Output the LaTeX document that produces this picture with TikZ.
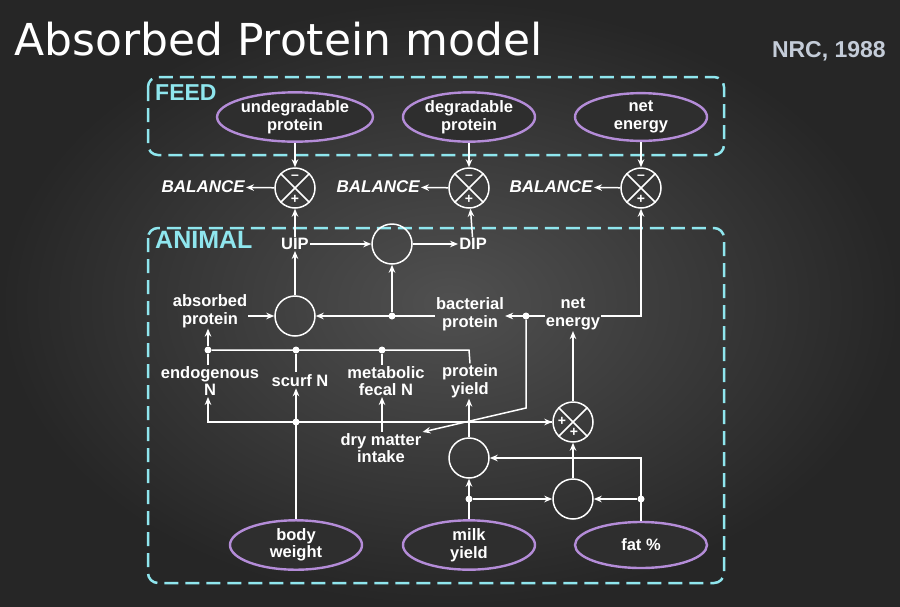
\documentclass[tikz,border=0pt]{standalone}
\usepackage{fontspec}
\setmainfont{Liberation Sans}
\newfontfamily\titlefont{DejaVu Sans}
\usetikzlibrary{arrows.meta,shapes.geometric}
\definecolor{cy}{HTML}{8FE6EE}
\definecolor{vio}{HTML}{B48CD8}
\definecolor{bgA}{HTML}{505050}
\definecolor{bgB}{HTML}{262626}
\definecolor{nrcc}{HTML}{C4CCD8}
\begin{document}
\begin{tikzpicture}[x=1pt,y=-1pt,
  lbl/.style={text=white,font=\bfseries\fontsize{16.5}{17.5}\selectfont,align=center,inner sep=1pt},
  ell/.style={ellipse,draw=vio,line width=2.4pt,fill=bgB!80!bgA,minimum width=132,minimum height=46,inner sep=0pt,lbl},
  circ/.style={circle,draw=white,line width=1.5pt,minimum size=40,inner sep=0pt},
  box/.style={draw=cy,line width=2.5pt,dash pattern=on 14pt off 7pt,rounded corners=10pt},
  ln/.style={draw=white,line width=1.5pt},
  ar/.style={ln,-{Stealth[length=8pt,width=6.5pt]}},
  dot/.style={circle,fill=white,inner sep=0pt,minimum size=7pt},
  sgn/.style={text=white,font=\bfseries\fontsize{14}{14}\selectfont,inner sep=0pt}]
\useasboundingbox (0,0) rectangle (900,606);
\shade[inner color=bgA,outer color=bgB] (0,0) rectangle (900,606);
\coordinate (x208) at (208,0);
\coordinate (x382) at (382,0);
\node[anchor=base west,text=white,inner sep=0pt,font=\titlefont\fontsize{44}{44}\selectfont] (title) at (14,55) {Absorbed Protein model};
\node[anchor=base east,text=nrcc,inner sep=0pt,font=\bfseries\fontsize{23}{23}\selectfont] (nrc) at (886,57) {NRC, 1988};
\draw[box] (148,77) rectangle (724,155);
\draw[box] (148,228) rectangle (724,583);
\node[anchor=north west,text=cy,inner sep=0pt,font=\bfseries\fontsize{23}{23}\selectfont] (feed) at (155,84) {FEED};
\node[anchor=north west,text=cy,inner sep=0pt,font=\bfseries\fontsize{25}{25}\selectfont] (animal) at (155,231) {ANIMAL};
% ellipses
\node[ell] (up) at (295,117) {undegradable\\protein};
\node[ell] (dp) at (469,117) {degradable\\protein};
\node[ell] (ne1) at (641,117) {net\\energy};
\node[ell] (bw) at (296,545) {body\\weight};
\node[ell] (my) at (469,545) {milk\\yield};
\node[ell] (fat) at (641,545) {fat \%};
% cross circles
\foreach \n/\x/\y in {c1/295/188,c2/469/188,c3/641/188}{
  \node[circ] (\n) at (\x,\y) {};
  \draw[ln] (\n.north west)--(\n.south east) (\n.north east)--(\n.south west);
  \node[sgn] at (\x,\y-11) {--};
  \node[sgn] at (\x,\y+11) {+};
}
\node[circ] (c4) at (573,422) {};
\draw[ln] (c4.north west)--(c4.south east) (c4.north east)--(c4.south west);
\node[sgn] at (562,421) {+};
\node[sgn] at (574,432) {+};
\node[lbl,font=\bfseries\itshape\fontsize{17}{18}\selectfont,anchor=east] (b1) at (246,187) {BALANCE};
\node[lbl,font=\bfseries\itshape\fontsize{17}{18}\selectfont,anchor=east] (b2) at (421,187) {BALANCE};
\node[lbl,font=\bfseries\itshape\fontsize{17}{18}\selectfont,anchor=east] (b3) at (594,187) {BALANCE};
\draw[ar] (c1)--(b1); \draw[ar] (c2)--(b2); \draw[ar] (c3)--(b3);
\draw[ar] (up)--(c1); \draw[ar] (dp)--(c2); \draw[ar] (ne1)--(c3);
% animal
\node[lbl] (uip) at (295,244) {UIP};
\node[circ] (cm) at (392,244) {};
\node[lbl] (dip) at (473,244) {DIP};
\node[circ] (ca) at (295,316) {};
\node[lbl] (ap) at (210,311) {absorbed\\protein};
\node[lbl] (bp) at (470,314) {bacterial\\protein};
\node[lbl] (ne2) at (573,314) {net\\energy};
\node[dot] (d1) at (392,316) {};
\node[dot] (d2) at (526,316) {};
\draw[ar] (uip)--(c1); \draw[ar] (dip)--(c2);
\draw[ar] (uip)--(cm); \draw[ar] (cm)--(dip);
\draw[ar] (ca)--(uip);
\draw[ar] (ca-|ap.east)--(ca);
\draw[ar] (d1-|bp.west)--(ca); \draw[ar] (d1)--(cm);
\draw[ar] (d2-|ne2.east) -- (641,316) -- (c3);
\draw[ar] (d2-|ne2.west)--(d2-|bp.east);
\node[lbl] (en) at (210,381) {endogenous\\N};
\node[lbl] (sn) at (300,381) {scurf N};
\node[lbl] (mf) at (386,381) {metabolic\\fecal N};
\node[lbl] (py) at (470,381) {protein\\yield};
\node[dot] (e1) at (208,350) {};
\node[dot] (e2) at (296,350) {};
\node[dot] (e3) at (382,350) {};
\draw[ln] (e1)--(469,350)--(py.north);
\draw[ln] (e1)--(en.north-|e1); \draw[ln] (e2)--(296,372); \draw[ln] (e3)--(mf.north-|e3);
\draw[ar] (e1)--(ap.south-|e1);
\node[lbl] (dm) at (381,448) {dry matter\\intake};
\node[dot] (g1) at (296,422) {};
\draw[ar] (c4.west) -- (208,422) -- (en.south-|x208);
\draw[ar] (bw)--(sn.south-|bw);
\draw[ar] (dm.north-|x382)--(mf.south-|x382);
\node[circ] (cp) at (469,458) {};
\node[circ] (cq) at (573,499) {};
\node[dot] (h1) at (469,499) {};
\node[dot] (h2) at (641,499) {};
\draw[ar] (g1)--(c4.west);
\draw[ar] (cp)--(py.south-|cp);
\draw[ar] (my)--(cp);
\draw[ar] (h1)--(cq);
\draw[ar] (h2)--(cq);
\draw[ar] (fat.north)--(641,458)--(cp);
\draw[ar] (cq)--(c4);
\draw[ar] (c4)--(ne2);
\draw[ar] (d2)--(526,408)--(dm.north east);
\end{tikzpicture}
\end{document}
